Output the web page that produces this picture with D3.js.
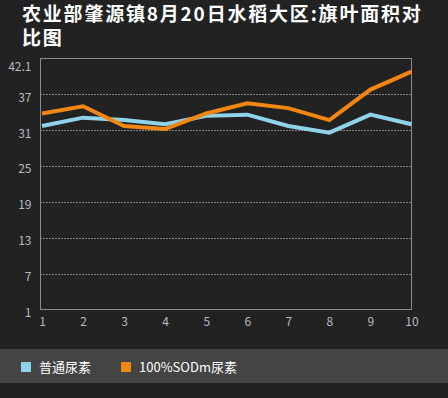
<!DOCTYPE html>
<html>
<head>
<meta charset="utf-8">
<script src="https://cdn.jsdelivr.net/npm/d3@7"></script>
<style>
  html, body { margin: 0; padding: 0; background: #222222; }
  svg { display: block; }
</style>
</head>
<body>
<svg id="chart" width="448" height="398"></svg>
<script>
// chart data
const categories = [1, 2, 3, 4, 5, 6, 7, 8, 9, 10];
const seriesNames = ["普通尿素", "100%SODm尿素"];
const normalUrea = [31.7, 33.1, 32.7, 32.0, 33.4, 33.6, 31.7, 30.6, 33.6, 32.0];
const sodUrea = [33.8, 35.0, 31.7, 31.2, 33.8, 35.5, 34.7, 32.7, 37.8, 40.8];
const yTicks = [1, 7, 13, 19, 25, 31, 37, 42.1];
const titleLines = ["农业部肇源镇8月20日水稻大区:旗叶面积对", "比图"];

const colors = ["#8fd3ea", "#f28613"];
const svg = d3.select("#chart");
const font = "'Noto Sans CJK SC', 'Noto Sans', sans-serif";

// plot area
const plotLeft = 40.5, plotRight = 411.5, plotTop = 58.5, plotBottom = 309.5;

const x = d3.scaleLinear().domain([1, 10]).range([plotLeft + 1.5, plotRight]);
const y = d3.scaleLinear().domain([1, 43]).range([plotBottom, plotTop]);

// title, one text per line
svg.append("g")
    .selectAll("text")
    .data(titleLines)
    .enter().append("text")
    .attr("x", 22)
    .attr("y", (d, i) => 21 + i * 24)
    .attr("font-family", font)
    .attr("font-size", 19)
    .attr("font-weight", "bold")
    .attr("letter-spacing", 1.8)
    .attr("fill", "#ffffff")
    .text(d => d);

// gridlines (no line at the top label)
svg.append("g")
    .selectAll("line")
    .data(yTicks.filter(t => t > 1 && t < 42))
    .enter().append("line")
    .attr("x1", plotLeft).attr("x2", plotRight)
    .attr("y1", d => Math.round(y(d)) + 0.5)
    .attr("y2", d => Math.round(y(d)) + 0.5)
    .attr("stroke", "#e6e6e6")
    .attr("stroke-width", 1)
    .attr("stroke-dasharray", "1,2");

// frame
svg.append("rect")
    .attr("x", plotLeft).attr("y", plotTop)
    .attr("width", plotRight - plotLeft).attr("height", plotBottom - plotTop)
    .attr("fill", "none")
    .attr("stroke", "#8c8c8c")
    .attr("stroke-width", 1);

// y axis labels
const yAxis = d3.axisLeft(y).tickValues(yTicks).tickSize(0).tickPadding(9)
    .tickFormat(d => d);
const gy = svg.append("g")
    .attr("transform", `translate(${plotLeft},3)`)
    .call(yAxis);
gy.select(".domain").remove();
gy.selectAll("text")
    .attr("font-family", font)
    .attr("font-size", 12)
    .attr("fill", "#b4bcc4");

// x axis labels
const xAxis = d3.axisBottom(x).tickValues(categories).tickSize(0).tickPadding(8)
    .tickFormat(d => d);
const gx = svg.append("g")
    .attr("transform", `translate(0,${plotBottom})`)
    .call(xAxis);
gx.select(".domain").remove();
gx.selectAll("text")
    .attr("font-family", font)
    .attr("font-size", 12)
    .attr("fill", "#b4bcc4");

// lines
const line = d3.line()
    .x((d, i) => x(categories[i]))
    .y(d => y(d));

[normalUrea, sodUrea].forEach((vals, k) => {
    svg.append("path")
        .datum(vals)
        .attr("d", line)
        .attr("fill", "none")
        .attr("stroke", colors[k])
        .attr("stroke-width", 4)
        .attr("stroke-linejoin", "miter");
});

// legend band
svg.append("rect")
    .attr("x", 0).attr("y", 349)
    .attr("width", 448).attr("height", 34)
    .attr("fill", "#444444");

const legendX = [21, 121];
const legend = svg.append("g").selectAll("g")
    .data(seriesNames)
    .enter().append("g")
    .attr("transform", (d, i) => `translate(${legendX[i]},362)`);
legend.append("rect")
    .attr("width", 10).attr("height", 10)
    .attr("fill", (d, i) => colors[i]);
legend.append("text")
    .attr("x", 18).attr("y", 10)
    .attr("font-family", font)
    .attr("font-size", 13)
    .attr("fill", "#ffffff")
    .text(d => d);
</script>
</body>
</html>
